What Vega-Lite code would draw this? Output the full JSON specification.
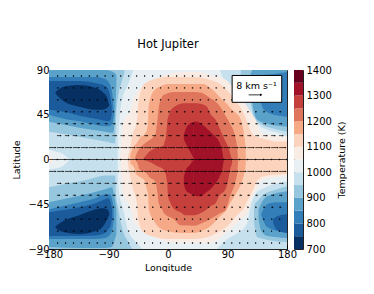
{"$schema":"https://vega.github.io/schema/vega-lite/v6.json","padding":{"left":11,"top":38,"right":0,"bottom":0},"bounds":"flush","config":{"font":"DejaVu Sans","view":{"stroke":"#222","strokeWidth":1},"axis":{"labelColor":"#000","titleColor":"#000","tickColor":"#000","domain":false,"grid":false,"labelFontSize":10,"titleFontSize":9.5,"titleFontWeight":"normal","labelOverlap":false,"labelBound":false,"labelFlush":false}},"datasets":{"fields":[
{"r":"base","t":1000,"lon":-180,"hi":90,"lo":-90},{"r":"base","t":1000,"lon":180,"hi":90,"lo":-90},
{"r":"a950","t":950,"lon":-180,"hi":90,"lo":-90},{"r":"a950","t":950,"lon":-76,"hi":90,"lo":-90},
{"r":"n950","t":950,"lon":-76,"hi":90,"lo":13},{"r":"n950","t":950,"lon":-74,"hi":90,"lo":36},{"r":"n950","t":950,"lon":-69,"hi":90,"lo":61},{"r":"n950","t":950,"lon":-60,"hi":90,"lo":76},{"r":"n950","t":950,"lon":-53,"hi":90,"lo":89},
{"r":"s950","t":950,"lon":-76,"hi":-13,"lo":-90},{"r":"s950","t":950,"lon":-74,"hi":-34,"lo":-90},{"r":"s950","t":950,"lon":-69,"hi":-47,"lo":-90},{"r":"s950","t":950,"lon":-60,"hi":-72,"lo":-90},{"r":"s950","t":950,"lon":-50,"hi":-82,"lo":-90},{"r":"s950","t":950,"lon":-40,"hi":-89,"lo":-90},
{"r":"ne950","t":950,"lon":79,"hi":90,"lo":89},{"r":"ne950","t":950,"lon":94,"hi":90,"lo":66},{"r":"ne950","t":950,"lon":110,"hi":90,"lo":55},{"r":"ne950","t":950,"lon":124,"hi":90,"lo":46},{"r":"ne950","t":950,"lon":138,"hi":90,"lo":34},{"r":"ne950","t":950,"lon":150,"hi":90,"lo":30},{"r":"ne950","t":950,"lon":170,"hi":90,"lo":26},{"r":"ne950","t":950,"lon":180,"hi":90,"lo":23},
{"r":"se950","t":950,"lon":75,"hi":-89,"lo":-90},{"r":"se950","t":950,"lon":90,"hi":-80,"lo":-90},{"r":"se950","t":950,"lon":105,"hi":-74,"lo":-90},{"r":"se950","t":950,"lon":120,"hi":-64,"lo":-90},{"r":"se950","t":950,"lon":124,"hi":-50,"lo":-90},{"r":"se950","t":950,"lon":132,"hi":-35,"lo":-90},{"r":"se950","t":950,"lon":145,"hi":-29,"lo":-90},{"r":"se950","t":950,"lon":160,"hi":-25,"lo":-90},{"r":"se950","t":950,"lon":180,"hi":-22,"lo":-90},
{"r":"a900","t":900,"lon":-180,"hi":90,"lo":28},{"r":"a900","t":900,"lon":-150,"hi":90,"lo":25},{"r":"a900","t":900,"lon":-120,"hi":90,"lo":21},{"r":"a900","t":900,"lon":-95,"hi":90,"lo":18},{"r":"a900","t":900,"lon":-80,"hi":90,"lo":16},{"r":"a900","t":900,"lon":-79,"hi":90,"lo":36},{"r":"a900","t":900,"lon":-76,"hi":90,"lo":61},{"r":"a900","t":900,"lon":-70,"hi":90,"lo":78},{"r":"a900","t":900,"lon":-66,"hi":90,"lo":87},
{"r":"b900","t":900,"lon":-180,"hi":-28,"lo":-90},{"r":"b900","t":900,"lon":-150,"hi":-24,"lo":-90},{"r":"b900","t":900,"lon":-120,"hi":-20,"lo":-90},{"r":"b900","t":900,"lon":-95,"hi":-16,"lo":-90},{"r":"b900","t":900,"lon":-80,"hi":-16,"lo":-90},{"r":"b900","t":900,"lon":-79,"hi":-33,"lo":-90},{"r":"b900","t":900,"lon":-76,"hi":-47,"lo":-90},{"r":"b900","t":900,"lon":-68,"hi":-72,"lo":-90},{"r":"b900","t":900,"lon":-60,"hi":-83,"lo":-90},{"r":"b900","t":900,"lon":-55,"hi":-89,"lo":-90},
{"r":"ne900","t":900,"lon":110,"hi":90,"lo":76},{"r":"ne900","t":900,"lon":125,"hi":90,"lo":56},{"r":"ne900","t":900,"lon":130,"hi":90,"lo":42},{"r":"ne900","t":900,"lon":140,"hi":90,"lo":36},{"r":"ne900","t":900,"lon":160,"hi":90,"lo":31},{"r":"ne900","t":900,"lon":180,"hi":90,"lo":28},
{"r":"se900","t":900,"lon":130,"hi":-50,"lo":-62},{"r":"se900","t":900,"lon":132,"hi":-44,"lo":-72},{"r":"se900","t":900,"lon":135,"hi":-42,"lo":-78},{"r":"se900","t":900,"lon":145,"hi":-35,"lo":-80},{"r":"se900","t":900,"lon":160,"hi":-31,"lo":-82},{"r":"se900","t":900,"lon":180,"hi":-27,"lo":-83},
{"r":"a850","t":850,"lon":-180,"hi":90,"lo":38},{"r":"a850","t":850,"lon":-134,"hi":90,"lo":32},{"r":"a850","t":850,"lon":-95,"hi":90,"lo":28},{"r":"a850","t":850,"lon":-83,"hi":88,"lo":27},{"r":"a850","t":850,"lon":-79,"hi":86,"lo":60},{"r":"a850","t":850,"lon":-78,"hi":84,"lo":80},
{"r":"b850","t":850,"lon":-180,"hi":-43,"lo":-88},{"r":"b850","t":850,"lon":-134,"hi":-36.5,"lo":-89},{"r":"b850","t":850,"lon":-95,"hi":-30,"lo":-89},{"r":"b850","t":850,"lon":-85,"hi":-28,"lo":-88},{"r":"b850","t":850,"lon":-82,"hi":-34,"lo":-84},{"r":"b850","t":850,"lon":-78,"hi":-50,"lo":-75},
{"r":"ne850","t":850,"lon":125,"hi":86,"lo":75},{"r":"ne850","t":850,"lon":128,"hi":90,"lo":55},{"r":"ne850","t":850,"lon":135,"hi":90,"lo":40},{"r":"ne850","t":850,"lon":150,"hi":90,"lo":36},{"r":"ne850","t":850,"lon":180,"hi":90,"lo":33},
{"r":"se850","t":850,"lon":137,"hi":-50,"lo":-60},{"r":"se850","t":850,"lon":141,"hi":-44,"lo":-72},{"r":"se850","t":850,"lon":150,"hi":-37,"lo":-77},{"r":"se850","t":850,"lon":180,"hi":-32,"lo":-79},
{"r":"a800","t":800,"lon":-180,"hi":83,"lo":45},{"r":"a800","t":800,"lon":-150,"hi":83,"lo":40},{"r":"a800","t":800,"lon":-134,"hi":83,"lo":38.5},{"r":"a800","t":800,"lon":-110,"hi":83,"lo":35},{"r":"a800","t":800,"lon":-95,"hi":81,"lo":33.5},{"r":"a800","t":800,"lon":-88,"hi":76,"lo":33.5},{"r":"a800","t":800,"lon":-84,"hi":65,"lo":37},{"r":"a800","t":800,"lon":-82,"hi":50,"lo":44},
{"r":"b800","t":800,"lon":-180,"hi":-50,"lo":-80},{"r":"b800","t":800,"lon":-134,"hi":-43,"lo":-80},{"r":"b800","t":800,"lon":-110,"hi":-39,"lo":-80},{"r":"b800","t":800,"lon":-95,"hi":-35,"lo":-79},{"r":"b800","t":800,"lon":-88,"hi":-35,"lo":-76},{"r":"b800","t":800,"lon":-84,"hi":-42,"lo":-70},{"r":"b800","t":800,"lon":-82,"hi":-50,"lo":-60},
{"r":"ne800","t":800,"lon":139,"hi":78,"lo":60},{"r":"ne800","t":800,"lon":145,"hi":85,"lo":50},{"r":"ne800","t":800,"lon":160,"hi":86,"lo":45},{"r":"ne800","t":800,"lon":180,"hi":88,"lo":43},
{"r":"se800","t":800,"lon":141,"hi":-55,"lo":-56},{"r":"se800","t":800,"lon":150,"hi":-45,"lo":-68},{"r":"se800","t":800,"lon":165,"hi":-43,"lo":-72},{"r":"se800","t":800,"lon":180,"hi":-43,"lo":-74},
{"r":"a750","t":750,"lon":-180,"hi":79,"lo":50},{"r":"a750","t":750,"lon":-150,"hi":79,"lo":47},{"r":"a750","t":750,"lon":-134,"hi":79,"lo":44},{"r":"a750","t":750,"lon":-110,"hi":77,"lo":41},{"r":"a750","t":750,"lon":-95,"hi":74,"lo":39},{"r":"a750","t":750,"lon":-90,"hi":70,"lo":38.5},{"r":"a750","t":750,"lon":-87,"hi":62,"lo":40},{"r":"a750","t":750,"lon":-85,"hi":52,"lo":46},
{"r":"b750","t":750,"lon":-180,"hi":-53,"lo":-77},{"r":"b750","t":750,"lon":-150,"hi":-50,"lo":-77},{"r":"b750","t":750,"lon":-134,"hi":-48,"lo":-77},{"r":"b750","t":750,"lon":-110,"hi":-44,"lo":-76.5},{"r":"b750","t":750,"lon":-95,"hi":-40,"lo":-74},{"r":"b750","t":750,"lon":-90,"hi":-39,"lo":-70},{"r":"b750","t":750,"lon":-86,"hi":-45,"lo":-64},{"r":"b750","t":750,"lon":-84.5,"hi":-50,"lo":-58},
{"r":"se750","t":750,"lon":159,"hi":-60,"lo":-64},{"r":"se750","t":750,"lon":165,"hi":-57,"lo":-71},{"r":"se750","t":750,"lon":180,"hi":-55,"lo":-74},
{"r":"a700","t":700,"lon":-170,"hi":68,"lo":66},{"r":"a700","t":700,"lon":-159,"hi":73,"lo":59},{"r":"a700","t":700,"lon":-134,"hi":75,"lo":53},{"r":"a700","t":700,"lon":-109,"hi":72,"lo":50},{"r":"a700","t":700,"lon":-99,"hi":68,"lo":50},{"r":"a700","t":700,"lon":-92,"hi":62,"lo":52},{"r":"a700","t":700,"lon":-89,"hi":55,"lo":54},
{"r":"b700","t":700,"lon":-170,"hi":-67,"lo":-69},{"r":"b700","t":700,"lon":-159,"hi":-62,"lo":-73},{"r":"b700","t":700,"lon":-134,"hi":-56,"lo":-75},{"r":"b700","t":700,"lon":-109,"hi":-50,"lo":-72},{"r":"b700","t":700,"lon":-99,"hi":-49,"lo":-68},{"r":"b700","t":700,"lon":-92,"hi":-50,"lo":-60},{"r":"b700","t":700,"lon":-89,"hi":-53,"lo":-56},
{"r":"e1000","t":1000,"lon":-180,"hi":10,"lo":-10},{"r":"e1000","t":1000,"lon":-170,"hi":8,"lo":-9},{"r":"e1000","t":1000,"lon":-160,"hi":6,"lo":-7},{"r":"e1000","t":1000,"lon":-150,"hi":0,"lo":-1},
{"r":"e1050","t":1050,"lon":-180,"hi":5,"lo":-5},{"r":"e1050","t":1050,"lon":-172,"hi":0,"lo":-1},
{"r":"w1050","t":1050,"lon":-72,"hi":0,"lo":0},{"r":"w1050","t":1050,"lon":-70,"hi":22,"lo":-20},{"r":"w1050","t":1050,"lon":-67,"hi":38,"lo":-35},{"r":"w1050","t":1050,"lon":-56,"hi":50,"lo":-50},{"r":"w1050","t":1050,"lon":-52,"hi":62,"lo":-62},{"r":"w1050","t":1050,"lon":-37,"hi":74,"lo":-72},{"r":"w1050","t":1050,"lon":-15,"hi":82,"lo":-80},{"r":"w1050","t":1050,"lon":0,"hi":86,"lo":-83},{"r":"w1050","t":1050,"lon":30,"hi":88,"lo":-84},{"r":"w1050","t":1050,"lon":44,"hi":88,"lo":-84},{"r":"w1050","t":1050,"lon":64,"hi":85,"lo":-84},{"r":"w1050","t":1050,"lon":89,"hi":79.5,"lo":-73},{"r":"w1050","t":1050,"lon":94,"hi":76,"lo":-70.5},{"r":"w1050","t":1050,"lon":114,"hi":59.5,"lo":-58},{"r":"w1050","t":1050,"lon":117,"hi":56,"lo":-57},{"r":"w1050","t":1050,"lon":127,"hi":46,"lo":-39},{"r":"w1050","t":1050,"lon":132,"hi":41,"lo":-32},{"r":"w1050","t":1050,"lon":142,"hi":26,"lo":-21},{"r":"w1050","t":1050,"lon":150,"hi":25,"lo":-19},{"r":"w1050","t":1050,"lon":180,"hi":23,"lo":-17},
{"r":"w1100","t":1100,"lon":-61,"hi":2,"lo":-2},{"r":"w1100","t":1100,"lon":-58,"hi":10,"lo":-14},{"r":"w1100","t":1100,"lon":-54,"hi":24,"lo":-27},{"r":"w1100","t":1100,"lon":-47,"hi":39.5,"lo":-45},{"r":"w1100","t":1100,"lon":-45,"hi":56,"lo":-60},{"r":"w1100","t":1100,"lon":-36,"hi":76,"lo":-74},{"r":"w1100","t":1100,"lon":-20,"hi":81,"lo":-78},{"r":"w1100","t":1100,"lon":0,"hi":83,"lo":-80},{"r":"w1100","t":1100,"lon":40,"hi":83,"lo":-80},{"r":"w1100","t":1100,"lon":54,"hi":82,"lo":-79},{"r":"w1100","t":1100,"lon":64,"hi":80,"lo":-77},{"r":"w1100","t":1100,"lon":79,"hi":76,"lo":-72},{"r":"w1100","t":1100,"lon":94,"hi":66,"lo":-64},{"r":"w1100","t":1100,"lon":99,"hi":61,"lo":-60},{"r":"w1100","t":1100,"lon":109,"hi":53,"lo":-53},{"r":"w1100","t":1100,"lon":114,"hi":47,"lo":-50},{"r":"w1100","t":1100,"lon":119,"hi":39.5,"lo":-43},{"r":"w1100","t":1100,"lon":124,"hi":30,"lo":-37},{"r":"w1100","t":1100,"lon":129,"hi":25,"lo":-30},{"r":"w1100","t":1100,"lon":134,"hi":23,"lo":-22},{"r":"w1100","t":1100,"lon":144,"hi":21,"lo":-17},{"r":"w1100","t":1100,"lon":164,"hi":18,"lo":-15},{"r":"w1100","t":1100,"lon":180,"hi":18,"lo":-14.5},
{"r":"w1150","t":1150,"lon":-57,"hi":5,"lo":-4},{"r":"w1150","t":1150,"lon":-50,"hi":14.5,"lo":-10},{"r":"w1150","t":1150,"lon":-49,"hi":15,"lo":-14},{"r":"w1150","t":1150,"lon":-41,"hi":23,"lo":-18},{"r":"w1150","t":1150,"lon":-36,"hi":25,"lo":-20.5},{"r":"w1150","t":1150,"lon":-32,"hi":29.5,"lo":-30},{"r":"w1150","t":1150,"lon":-30,"hi":40,"lo":-36},{"r":"w1150","t":1150,"lon":-29,"hi":55,"lo":-50},{"r":"w1150","t":1150,"lon":-21,"hi":69.5,"lo":-62},{"r":"w1150","t":1150,"lon":-10,"hi":74,"lo":-70},{"r":"w1150","t":1150,"lon":-1,"hi":76,"lo":-72},{"r":"w1150","t":1150,"lon":20,"hi":76,"lo":-74},{"r":"w1150","t":1150,"lon":39,"hi":76,"lo":-74},{"r":"w1150","t":1150,"lon":54,"hi":76,"lo":-71},{"r":"w1150","t":1150,"lon":64,"hi":72,"lo":-67},{"r":"w1150","t":1150,"lon":69,"hi":69.5,"lo":-64},{"r":"w1150","t":1150,"lon":79,"hi":62,"lo":-57},{"r":"w1150","t":1150,"lon":89,"hi":56,"lo":-50},{"r":"w1150","t":1150,"lon":94,"hi":52,"lo":-44},{"r":"w1150","t":1150,"lon":104,"hi":46,"lo":-33},{"r":"w1150","t":1150,"lon":109,"hi":42,"lo":-27},{"r":"w1150","t":1150,"lon":112,"hi":36,"lo":-22},{"r":"w1150","t":1150,"lon":115,"hi":25,"lo":-15},{"r":"w1150","t":1150,"lon":117,"hi":14,"lo":-8},{"r":"w1150","t":1150,"lon":118,"hi":0,"lo":-1},
{"r":"w1200","t":1200,"lon":-50,"hi":1,"lo":0},{"r":"w1200","t":1200,"lon":-45,"hi":9,"lo":-6},{"r":"w1200","t":1200,"lon":-44,"hi":10,"lo":-9},{"r":"w1200","t":1200,"lon":-31,"hi":18,"lo":-15},{"r":"w1200","t":1200,"lon":-29,"hi":19,"lo":-17},{"r":"w1200","t":1200,"lon":-19,"hi":26,"lo":-22},{"r":"w1200","t":1200,"lon":-16,"hi":40,"lo":-33},{"r":"w1200","t":1200,"lon":-14,"hi":52,"lo":-44},{"r":"w1200","t":1200,"lon":-9,"hi":63,"lo":-50},{"r":"w1200","t":1200,"lon":-6,"hi":65,"lo":-54},{"r":"w1200","t":1200,"lon":9,"hi":68,"lo":-60},{"r":"w1200","t":1200,"lon":19,"hi":68,"lo":-66},{"r":"w1200","t":1200,"lon":39,"hi":68,"lo":-66.5},{"r":"w1200","t":1200,"lon":51,"hi":67,"lo":-64},{"r":"w1200","t":1200,"lon":61,"hi":63,"lo":-61},{"r":"w1200","t":1200,"lon":79,"hi":53,"lo":-54},{"r":"w1200","t":1200,"lon":87,"hi":44,"lo":-51},{"r":"w1200","t":1200,"lon":94,"hi":36,"lo":-37},{"r":"w1200","t":1200,"lon":102,"hi":22,"lo":-22},{"r":"w1200","t":1200,"lon":105,"hi":10,"lo":-12},{"r":"w1200","t":1200,"lon":106,"hi":0,"lo":-2},
{"r":"w1250","t":1250,"lon":-37,"hi":1,"lo":0},{"r":"w1250","t":1250,"lon":-26,"hi":9,"lo":-3},{"r":"w1250","t":1250,"lon":-15,"hi":12,"lo":-7},{"r":"w1250","t":1250,"lon":-7,"hi":14,"lo":-10},{"r":"w1250","t":1250,"lon":-5,"hi":18,"lo":-12},{"r":"w1250","t":1250,"lon":-3,"hi":23,"lo":-16},{"r":"w1250","t":1250,"lon":-2,"hi":30,"lo":-20},{"r":"w1250","t":1250,"lon":-1,"hi":39,"lo":-25},{"r":"w1250","t":1250,"lon":0,"hi":42,"lo":-37},{"r":"w1250","t":1250,"lon":4,"hi":49.5,"lo":-44},{"r":"w1250","t":1250,"lon":6,"hi":51,"lo":-47},{"r":"w1250","t":1250,"lon":12,"hi":54,"lo":-51},{"r":"w1250","t":1250,"lon":19,"hi":56,"lo":-53},{"r":"w1250","t":1250,"lon":26,"hi":56.5,"lo":-56},{"r":"w1250","t":1250,"lon":40,"hi":56.5,"lo":-56},{"r":"w1250","t":1250,"lon":49,"hi":56,"lo":-54},{"r":"w1250","t":1250,"lon":59,"hi":53,"lo":-50},{"r":"w1250","t":1250,"lon":64,"hi":46,"lo":-47},{"r":"w1250","t":1250,"lon":72,"hi":40,"lo":-44},{"r":"w1250","t":1250,"lon":77,"hi":33,"lo":-37},{"r":"w1250","t":1250,"lon":87,"hi":18,"lo":-30},{"r":"w1250","t":1250,"lon":92,"hi":11,"lo":-17},{"r":"w1250","t":1250,"lon":94,"hi":6,"lo":-10},{"r":"w1250","t":1250,"lon":97,"hi":-2,"lo":-4},
{"r":"n1300","t":1300,"lon":24,"hi":25,"lo":20},{"r":"n1300","t":1300,"lon":27,"hi":31,"lo":16},{"r":"n1300","t":1300,"lon":31,"hi":35,"lo":11},{"r":"n1300","t":1300,"lon":35,"hi":37,"lo":6},{"r":"n1300","t":1300,"lon":39,"hi":38,"lo":1},
{"r":"s1300","t":1300,"lon":24,"hi":-17,"lo":-25},{"r":"s1300","t":1300,"lon":27,"hi":-10.5,"lo":-31},{"r":"s1300","t":1300,"lon":33,"hi":-5.5,"lo":-34},{"r":"s1300","t":1300,"lon":39,"hi":0,"lo":-36},
{"r":"m1300","t":1300,"lon":39,"hi":38,"lo":-36},{"r":"m1300","t":1300,"lon":44,"hi":38,"lo":-37},{"r":"m1300","t":1300,"lon":50,"hi":36,"lo":-37},{"r":"m1300","t":1300,"lon":56,"hi":33,"lo":-34},{"r":"m1300","t":1300,"lon":64,"hi":28,"lo":-30},{"r":"m1300","t":1300,"lon":72,"hi":23,"lo":-24},{"r":"m1300","t":1300,"lon":78,"hi":17,"lo":-17},{"r":"m1300","t":1300,"lon":82,"hi":8,"lo":-10},{"r":"m1300","t":1300,"lon":84,"hi":0,"lo":-2}
],"arrows":[
{"lon":-168,"lat":84,"end":-166.5},{"lon":-156,"lat":84,"end":-154.5},{"lon":-144,"lat":84,"end":-142.5},{"lon":-132,"lat":84,"end":-130.5},{"lon":-120,"lat":84,"end":-118.5},{"lon":-108,"lat":84,"end":-106.5},{"lon":-96,"lat":84,"end":-94.5},{"lon":-84,"lat":84,"end":-83},{"lon":-72,"lat":84,"end":-71},{"lon":-60,"lat":84,"end":-59},{"lon":-48,"lat":84,"end":-47},{"lon":-36,"lat":84,"end":-35},{"lon":-24,"lat":84,"end":-23},{"lon":-12,"lat":84,"end":-11},{"lon":0,"lat":84,"end":1},{"lon":12,"lat":84,"end":13.5},{"lon":24,"lat":84,"end":25.5},{"lon":36,"lat":84,"end":37.5},{"lon":48,"lat":84,"end":49.5},{"lon":60,"lat":84,"end":61.5},{"lon":72,"lat":84,"end":73.5},
{"lon":-168,"lat":72,"end":-166},{"lon":-156,"lat":72,"end":-154},{"lon":-144,"lat":72,"end":-142},{"lon":-132,"lat":72,"end":-130},{"lon":-120,"lat":72,"end":-118},{"lon":-108,"lat":72,"end":-106},{"lon":-96,"lat":72,"end":-94.5},{"lon":-84,"lat":72,"end":-83},{"lon":-72,"lat":72,"end":-71},{"lon":-60,"lat":72,"end":-59},{"lon":-48,"lat":72,"end":-47},{"lon":-36,"lat":72,"end":-35},{"lon":-24,"lat":72,"end":-23},{"lon":-12,"lat":72,"end":-11},{"lon":0,"lat":72,"end":1},{"lon":12,"lat":72,"end":13.5},{"lon":24,"lat":72,"end":25.5},{"lon":36,"lat":72,"end":37.5},{"lon":48,"lat":72,"end":49.5},{"lon":60,"lat":72,"end":61.5},{"lon":72,"lat":72,"end":73.5},{"lon":84,"lat":72,"end":85.5},
{"lon":-168,"lat":60,"end":-166},{"lon":-156,"lat":60,"end":-154},{"lon":-144,"lat":60,"end":-142},{"lon":-132,"lat":60,"end":-130},{"lon":-120,"lat":60,"end":-118},{"lon":-108,"lat":60,"end":-106},{"lon":-96,"lat":60,"end":-94},{"lon":-84,"lat":60,"end":-82.5},{"lon":-72,"lat":60,"end":-71},{"lon":-60,"lat":60,"end":-59},{"lon":-48,"lat":60,"end":-47},{"lon":-36,"lat":60,"end":-35},{"lon":-24,"lat":60,"end":-23},{"lon":-12,"lat":60,"end":-11},{"lon":0,"lat":60,"end":1},{"lon":12,"lat":60,"end":13.5},{"lon":24,"lat":60,"end":25.5},{"lon":36,"lat":60,"end":37.5},{"lon":48,"lat":60,"end":49.5},{"lon":60,"lat":60,"end":61.5},{"lon":72,"lat":60,"end":73.5},{"lon":84,"lat":60,"end":85.5},{"lon":96,"lat":60,"end":97},
{"lon":-168,"lat":48,"end":-165.5},{"lon":-156,"lat":48,"end":-153.5},{"lon":-144,"lat":48,"end":-141.5},{"lon":-132,"lat":48,"end":-129.5},{"lon":-120,"lat":48,"end":-117.5},{"lon":-108,"lat":48,"end":-105.5},{"lon":-96,"lat":48,"end":-93.5},{"lon":-84,"lat":48,"end":-82},{"lon":-72,"lat":48,"end":-70.5},{"lon":-60,"lat":48,"end":-58.5},{"lon":-48,"lat":48,"end":-46.5},{"lon":-36,"lat":48,"end":-34.5},{"lon":-24,"lat":48,"end":-22.5},{"lon":-12,"lat":48,"end":-10},{"lon":0,"lat":48,"end":2},{"lon":12,"lat":48,"end":14},{"lon":24,"lat":48,"end":26},{"lon":36,"lat":48,"end":38},{"lon":48,"lat":48,"end":50},{"lon":60,"lat":48,"end":62},{"lon":72,"lat":48,"end":74},{"lon":84,"lat":48,"end":86},{"lon":96,"lat":48,"end":97.5},{"lon":108,"lat":48,"end":109.5},{"lon":120,"lat":48,"end":121.5},{"lon":132,"lat":48,"end":133.5},{"lon":144,"lat":48,"end":146},{"lon":156,"lat":48,"end":158.5},{"lon":168,"lat":48,"end":170.5},
{"lon":-168,"lat":36,"end":-164},{"lon":-156,"lat":36,"end":-152},{"lon":-144,"lat":36,"end":-140},{"lon":-132,"lat":36,"end":-128},{"lon":-120,"lat":36,"end":-116},{"lon":-108,"lat":36,"end":-104},{"lon":-96,"lat":36,"end":-92},{"lon":-84,"lat":36,"end":-80},{"lon":-72,"lat":36,"end":-68.5},{"lon":-60,"lat":36,"end":-57},{"lon":-48,"lat":36,"end":-45},{"lon":-36,"lat":36,"end":-33},{"lon":-24,"lat":36,"end":-21},{"lon":-12,"lat":36,"end":-9},{"lon":0,"lat":36,"end":3},{"lon":12,"lat":36,"end":15},{"lon":24,"lat":36,"end":27},{"lon":36,"lat":36,"end":39},{"lon":48,"lat":36,"end":51},{"lon":60,"lat":36,"end":63},{"lon":72,"lat":36,"end":75},{"lon":84,"lat":36,"end":87},{"lon":96,"lat":36,"end":99},{"lon":108,"lat":36,"end":111},{"lon":120,"lat":36,"end":123},{"lon":132,"lat":36,"end":135},{"lon":144,"lat":36,"end":148},{"lon":156,"lat":36,"end":160},{"lon":168,"lat":36,"end":172},
{"lon":-168,"lat":24,"end":-162},{"lon":-156,"lat":24,"end":-150},{"lon":-144,"lat":24,"end":-138},{"lon":-132,"lat":24,"end":-126},{"lon":-120,"lat":24,"end":-114},{"lon":-108,"lat":24,"end":-102},{"lon":-96,"lat":24,"end":-90},{"lon":-84,"lat":24,"end":-78},{"lon":-72,"lat":24,"end":-66},{"lon":-60,"lat":24,"end":-54.5},{"lon":-48,"lat":24,"end":-43},{"lon":-36,"lat":24,"end":-31},{"lon":-24,"lat":24,"end":-19},{"lon":-12,"lat":24,"end":-7},{"lon":0,"lat":24,"end":5},{"lon":12,"lat":24,"end":17},{"lon":24,"lat":24,"end":29},{"lon":36,"lat":24,"end":41},{"lon":48,"lat":24,"end":53},{"lon":60,"lat":24,"end":65},{"lon":72,"lat":24,"end":77},{"lon":84,"lat":24,"end":89},{"lon":96,"lat":24,"end":101},{"lon":108,"lat":24,"end":113},{"lon":120,"lat":24,"end":125},{"lon":132,"lat":24,"end":137},{"lon":144,"lat":24,"end":150},{"lon":156,"lat":24,"end":162},{"lon":168,"lat":24,"end":174},
{"lon":-180,"lat":12,"end":-170},{"lon":-168,"lat":12,"end":-158},{"lon":-156,"lat":12,"end":-146},{"lon":-144,"lat":12,"end":-134},{"lon":-132,"lat":12,"end":-122},{"lon":-120,"lat":12,"end":-110},{"lon":-108,"lat":12,"end":-98},{"lon":-96,"lat":12,"end":-86},{"lon":-84,"lat":12,"end":-74},{"lon":-72,"lat":12,"end":-62},{"lon":-60,"lat":12,"end":-50},{"lon":-48,"lat":12,"end":-38},{"lon":-36,"lat":12,"end":-26},{"lon":-24,"lat":12,"end":-14},{"lon":-12,"lat":12,"end":-2},{"lon":0,"lat":12,"end":10},{"lon":12,"lat":12,"end":22},{"lon":24,"lat":12,"end":34},{"lon":36,"lat":12,"end":46},{"lon":48,"lat":12,"end":58},{"lon":60,"lat":12,"end":70},{"lon":72,"lat":12,"end":82},{"lon":84,"lat":12,"end":94},{"lon":96,"lat":12,"end":106},{"lon":108,"lat":12,"end":118},{"lon":120,"lat":12,"end":130},{"lon":132,"lat":12,"end":142},{"lon":144,"lat":12,"end":154},{"lon":156,"lat":12,"end":166},{"lon":168,"lat":12,"end":178},
{"lon":-180,"lat":0,"end":-167},{"lon":-168,"lat":0,"end":-155},{"lon":-156,"lat":0,"end":-143},{"lon":-144,"lat":0,"end":-131},{"lon":-132,"lat":0,"end":-119},{"lon":-120,"lat":0,"end":-107},{"lon":-108,"lat":0,"end":-95},{"lon":-96,"lat":0,"end":-83},{"lon":-84,"lat":0,"end":-71},{"lon":-72,"lat":0,"end":-59},{"lon":-60,"lat":0,"end":-47},{"lon":-48,"lat":0,"end":-35},{"lon":-36,"lat":0,"end":-23},{"lon":-24,"lat":0,"end":-11},{"lon":-12,"lat":0,"end":1},{"lon":0,"lat":0,"end":13},{"lon":12,"lat":0,"end":25},{"lon":24,"lat":0,"end":37},{"lon":36,"lat":0,"end":49},{"lon":48,"lat":0,"end":61},{"lon":60,"lat":0,"end":73},{"lon":72,"lat":0,"end":85},{"lon":84,"lat":0,"end":97},{"lon":96,"lat":0,"end":109},{"lon":108,"lat":0,"end":121},{"lon":120,"lat":0,"end":133},{"lon":132,"lat":0,"end":145},{"lon":144,"lat":0,"end":157},{"lon":156,"lat":0,"end":169},{"lon":168,"lat":0,"end":180},
{"lon":-180,"lat":-12,"end":-170},{"lon":-168,"lat":-12,"end":-158},{"lon":-156,"lat":-12,"end":-146},{"lon":-144,"lat":-12,"end":-134},{"lon":-132,"lat":-12,"end":-122},{"lon":-120,"lat":-12,"end":-110},{"lon":-108,"lat":-12,"end":-98},{"lon":-96,"lat":-12,"end":-86},{"lon":-84,"lat":-12,"end":-74},{"lon":-72,"lat":-12,"end":-62},{"lon":-60,"lat":-12,"end":-50},{"lon":-48,"lat":-12,"end":-38},{"lon":-36,"lat":-12,"end":-26},{"lon":-24,"lat":-12,"end":-14},{"lon":-12,"lat":-12,"end":-2},{"lon":0,"lat":-12,"end":10},{"lon":12,"lat":-12,"end":22},{"lon":24,"lat":-12,"end":34},{"lon":36,"lat":-12,"end":46},{"lon":48,"lat":-12,"end":58},{"lon":60,"lat":-12,"end":70},{"lon":72,"lat":-12,"end":82},{"lon":84,"lat":-12,"end":94},{"lon":96,"lat":-12,"end":106},{"lon":108,"lat":-12,"end":118},{"lon":120,"lat":-12,"end":130},{"lon":132,"lat":-12,"end":142},{"lon":144,"lat":-12,"end":154},{"lon":156,"lat":-12,"end":166},{"lon":168,"lat":-12,"end":178},
{"lon":-168,"lat":-24,"end":-162},{"lon":-156,"lat":-24,"end":-150},{"lon":-144,"lat":-24,"end":-138},{"lon":-132,"lat":-24,"end":-126},{"lon":-120,"lat":-24,"end":-114},{"lon":-108,"lat":-24,"end":-102},{"lon":-96,"lat":-24,"end":-90},{"lon":-84,"lat":-24,"end":-78},{"lon":-72,"lat":-24,"end":-66},{"lon":-60,"lat":-24,"end":-54.5},{"lon":-48,"lat":-24,"end":-43},{"lon":-36,"lat":-24,"end":-31},{"lon":-24,"lat":-24,"end":-19},{"lon":-12,"lat":-24,"end":-7},{"lon":0,"lat":-24,"end":5},{"lon":12,"lat":-24,"end":17},{"lon":24,"lat":-24,"end":29},{"lon":36,"lat":-24,"end":41},{"lon":48,"lat":-24,"end":53},{"lon":60,"lat":-24,"end":65},{"lon":72,"lat":-24,"end":77},{"lon":84,"lat":-24,"end":89},{"lon":96,"lat":-24,"end":101},{"lon":108,"lat":-24,"end":113},{"lon":120,"lat":-24,"end":125},{"lon":132,"lat":-24,"end":137},{"lon":144,"lat":-24,"end":150},{"lon":156,"lat":-24,"end":162},{"lon":168,"lat":-24,"end":174},
{"lon":-168,"lat":-36,"end":-164},{"lon":-156,"lat":-36,"end":-152},{"lon":-144,"lat":-36,"end":-140},{"lon":-132,"lat":-36,"end":-128},{"lon":-120,"lat":-36,"end":-116},{"lon":-108,"lat":-36,"end":-104},{"lon":-96,"lat":-36,"end":-92},{"lon":-84,"lat":-36,"end":-80},{"lon":-72,"lat":-36,"end":-68.5},{"lon":-60,"lat":-36,"end":-57},{"lon":-48,"lat":-36,"end":-45},{"lon":-36,"lat":-36,"end":-33},{"lon":-24,"lat":-36,"end":-21},{"lon":-12,"lat":-36,"end":-9},{"lon":0,"lat":-36,"end":3},{"lon":12,"lat":-36,"end":15},{"lon":24,"lat":-36,"end":27},{"lon":36,"lat":-36,"end":39},{"lon":48,"lat":-36,"end":51},{"lon":60,"lat":-36,"end":63},{"lon":72,"lat":-36,"end":75},{"lon":84,"lat":-36,"end":87},{"lon":96,"lat":-36,"end":99},{"lon":108,"lat":-36,"end":111},{"lon":120,"lat":-36,"end":123},{"lon":132,"lat":-36,"end":135},{"lon":144,"lat":-36,"end":148},{"lon":156,"lat":-36,"end":160},{"lon":168,"lat":-36,"end":172},
{"lon":-168,"lat":-48,"end":-165.5},{"lon":-156,"lat":-48,"end":-153.5},{"lon":-144,"lat":-48,"end":-141.5},{"lon":-132,"lat":-48,"end":-129.5},{"lon":-120,"lat":-48,"end":-117.5},{"lon":-108,"lat":-48,"end":-105.5},{"lon":-96,"lat":-48,"end":-93.5},{"lon":-84,"lat":-48,"end":-82},{"lon":-72,"lat":-48,"end":-70.5},{"lon":-60,"lat":-48,"end":-58.5},{"lon":-48,"lat":-48,"end":-46.5},{"lon":-36,"lat":-48,"end":-34.5},{"lon":-24,"lat":-48,"end":-22.5},{"lon":-12,"lat":-48,"end":-10},{"lon":0,"lat":-48,"end":2},{"lon":12,"lat":-48,"end":14},{"lon":24,"lat":-48,"end":26},{"lon":36,"lat":-48,"end":38},{"lon":48,"lat":-48,"end":50},{"lon":60,"lat":-48,"end":62},{"lon":72,"lat":-48,"end":74},{"lon":84,"lat":-48,"end":86},{"lon":96,"lat":-48,"end":97.5},{"lon":108,"lat":-48,"end":109.5},{"lon":120,"lat":-48,"end":121.5},{"lon":132,"lat":-48,"end":133.5},{"lon":144,"lat":-48,"end":146},{"lon":156,"lat":-48,"end":158.5},{"lon":168,"lat":-48,"end":170.5},
{"lon":-168,"lat":-60,"end":-166},{"lon":-156,"lat":-60,"end":-154},{"lon":-144,"lat":-60,"end":-142},{"lon":-132,"lat":-60,"end":-130},{"lon":-120,"lat":-60,"end":-118},{"lon":-108,"lat":-60,"end":-106},{"lon":-96,"lat":-60,"end":-94},{"lon":-84,"lat":-60,"end":-82.5},{"lon":-72,"lat":-60,"end":-71},{"lon":-60,"lat":-60,"end":-59},{"lon":-48,"lat":-60,"end":-47},{"lon":-36,"lat":-60,"end":-35},{"lon":-24,"lat":-60,"end":-23},{"lon":-12,"lat":-60,"end":-11},{"lon":0,"lat":-60,"end":1},{"lon":12,"lat":-60,"end":13.5},{"lon":24,"lat":-60,"end":25.5},{"lon":36,"lat":-60,"end":37.5},{"lon":48,"lat":-60,"end":49.5},{"lon":60,"lat":-60,"end":61.5},{"lon":72,"lat":-60,"end":73.5},{"lon":84,"lat":-60,"end":85.5},{"lon":96,"lat":-60,"end":97},{"lon":108,"lat":-60,"end":109},{"lon":120,"lat":-60,"end":121},{"lon":132,"lat":-60,"end":133},{"lon":144,"lat":-60,"end":145.5},{"lon":156,"lat":-60,"end":157.5},{"lon":168,"lat":-60,"end":169.5},
{"lon":-168,"lat":-72,"end":-166},{"lon":-156,"lat":-72,"end":-154},{"lon":-144,"lat":-72,"end":-142},{"lon":-132,"lat":-72,"end":-130},{"lon":-120,"lat":-72,"end":-118},{"lon":-108,"lat":-72,"end":-106},{"lon":-96,"lat":-72,"end":-94.5},{"lon":-84,"lat":-72,"end":-83},{"lon":-72,"lat":-72,"end":-71},{"lon":-60,"lat":-72,"end":-59},{"lon":-48,"lat":-72,"end":-47},{"lon":-36,"lat":-72,"end":-35},{"lon":-24,"lat":-72,"end":-23},{"lon":-12,"lat":-72,"end":-11},{"lon":0,"lat":-72,"end":1},{"lon":12,"lat":-72,"end":13.5},{"lon":24,"lat":-72,"end":25.5},{"lon":36,"lat":-72,"end":37.5},{"lon":48,"lat":-72,"end":49.5},{"lon":60,"lat":-72,"end":61.5},{"lon":72,"lat":-72,"end":73.5},{"lon":84,"lat":-72,"end":85.5},{"lon":96,"lat":-72,"end":97},{"lon":108,"lat":-72,"end":109},{"lon":120,"lat":-72,"end":121},{"lon":132,"lat":-72,"end":133},{"lon":144,"lat":-72,"end":145},{"lon":156,"lat":-72,"end":157},{"lon":168,"lat":-72,"end":169},
{"lon":-168,"lat":-84,"end":-166.5},{"lon":-156,"lat":-84,"end":-154.5},{"lon":-144,"lat":-84,"end":-142.5},{"lon":-132,"lat":-84,"end":-130.5},{"lon":-120,"lat":-84,"end":-118.5},{"lon":-108,"lat":-84,"end":-106.5},{"lon":-96,"lat":-84,"end":-94.5},{"lon":-84,"lat":-84,"end":-83},{"lon":-72,"lat":-84,"end":-71},{"lon":-60,"lat":-84,"end":-59},{"lon":-48,"lat":-84,"end":-47},{"lon":-36,"lat":-84,"end":-35},{"lon":-24,"lat":-84,"end":-23},{"lon":-12,"lat":-84,"end":-11},{"lon":0,"lat":-84,"end":1},{"lon":12,"lat":-84,"end":13.5},{"lon":24,"lat":-84,"end":25.5},{"lon":36,"lat":-84,"end":37.5},{"lon":48,"lat":-84,"end":49.5},{"lon":60,"lat":-84,"end":61.5},{"lon":72,"lat":-84,"end":73.5},{"lon":84,"lat":-84,"end":85.5},{"lon":96,"lat":-84,"end":97},{"lon":108,"lat":-84,"end":109},{"lon":120,"lat":-84,"end":121},{"lon":132,"lat":-84,"end":133},{"lon":144,"lat":-84,"end":145},{"lon":156,"lat":-84,"end":157},{"lon":168,"lat":-84,"end":169}
]},
"hconcat":[{"width":238,"height":179,"title":{"text":"Hot Jupiter","fontSize":11.5,"fontWeight":"normal","color":"#000","offset":15},
"layer":[
{"data":{"name":"fields"},"mark":{"type":"area","interpolate":"monotone","clip":true},"encoding":{"x":{"field":"lon","type":"quantitative","scale":{"domain":[-180,180],"nice":false,"zero":false},"axis":{"title":"Longitude","values":[-180,-90,0,90,180],"tickSize":-4,"labelPadding":4,"titlePadding":3}},"y":{"field":"hi","type":"quantitative","scale":{"domain":[-90,90],"nice":false,"zero":false},"axis":{"title":"Latitude","values":[-90,-45,0,45,90],"tickSize":-4,"labelPadding":4,"titlePadding":6}},"y2":{"field":"lo"},"detail":{"field":"r"},"color":{"field":"t","type":"ordinal","legend":null,"scale":{"domain":[700,750,800,850,900,950,1000,1050,1100,1150,1200,1250,1300,1350],"range":["#053061","#1b5a9b","#337eb8","#5ba2cb","#97c7df","#c7e0ed","#e8f0f4","#f9ece5","#fcd3bc","#f5a987","#df755d","#c53f3d","#a11228","#67001f"]}}}},
{"data":{"name":"arrows"},"mark":{"type":"rule","color":"#000","strokeWidth":0.7,"clip":true},"encoding":{"x":{"field":"lon","type":"quantitative"},"x2":{"field":"end"},"y":{"field":"lat","type":"quantitative"}}},
{"data":{"name":"arrows"},"mark":{"type":"point","shape":"triangle-right","filled":true,"color":"#000","opacity":0.85,"size":3.5,"clip":true},"encoding":{"x":{"field":"end","type":"quantitative"},"y":{"field":"lat","type":"quantitative"}}},
{"data":{"values":[{"a":97,"b":172,"c":84.5,"d":57.5}]},"mark":{"type":"rect","fill":"#fff","stroke":"#000","strokeWidth":1},"encoding":{"x":{"field":"a","type":"quantitative"},"x2":{"field":"b"},"y":{"field":"c","type":"quantitative"},"y2":{"field":"d"}}},
{"data":{"values":[{"a":122,"b":141,"c":65}]},"mark":{"type":"rule","color":"#000","strokeWidth":0.8},"encoding":{"x":{"field":"a","type":"quantitative"},"x2":{"field":"b"},"y":{"field":"c","type":"quantitative"}}},
{"data":{"values":[{"b":141,"c":65}]},"mark":{"type":"point","shape":"triangle-right","filled":true,"color":"#000","opacity":1,"size":7},"encoding":{"x":{"field":"b","type":"quantitative"},"y":{"field":"c","type":"quantitative"}}},
{"data":{"values":[{"a":134,"c":74,"s":"8 km s⁻¹"}]},"mark":{"type":"text","fontSize":9.5,"color":"#000"},"encoding":{"x":{"field":"a","type":"quantitative"},"y":{"field":"c","type":"quantitative"},"text":{"field":"s"}}}
]},
{"width":9,"height":179,"data":{"values":[{"t":700,"lo":700,"hi":750},{"t":750,"lo":750,"hi":800},{"t":800,"lo":800,"hi":850},{"t":850,"lo":850,"hi":900},{"t":900,"lo":900,"hi":950},{"t":950,"lo":950,"hi":1000},{"t":1000,"lo":1000,"hi":1050},{"t":1050,"lo":1050,"hi":1100},{"t":1100,"lo":1100,"hi":1150},{"t":1150,"lo":1150,"hi":1200},{"t":1200,"lo":1200,"hi":1250},{"t":1250,"lo":1250,"hi":1300},{"t":1300,"lo":1300,"hi":1350},{"t":1350,"lo":1350,"hi":1400}]},
"mark":{"type":"rect"},"encoding":{"y":{"field":"lo","type":"quantitative","scale":{"domain":[700,1400],"nice":false,"zero":false},"axis":{"orient":"right","title":"Temperature (K)","titleAngle":270,"format":"d","values":[700,800,900,1000,1100,1200,1300,1400],"tickSize":0,"labelPadding":3,"titlePadding":15}},"y2":{"field":"hi"},"color":{"field":"t","type":"ordinal","legend":null,"scale":{"domain":[700,750,800,850,900,950,1000,1050,1100,1150,1200,1250,1300,1350],"range":["#053061","#1b5a9b","#337eb8","#5ba2cb","#97c7df","#c7e0ed","#e8f0f4","#f9ece5","#fcd3bc","#f5a987","#df755d","#c53f3d","#a11228","#67001f"]}}}}
],"spacing":7}
